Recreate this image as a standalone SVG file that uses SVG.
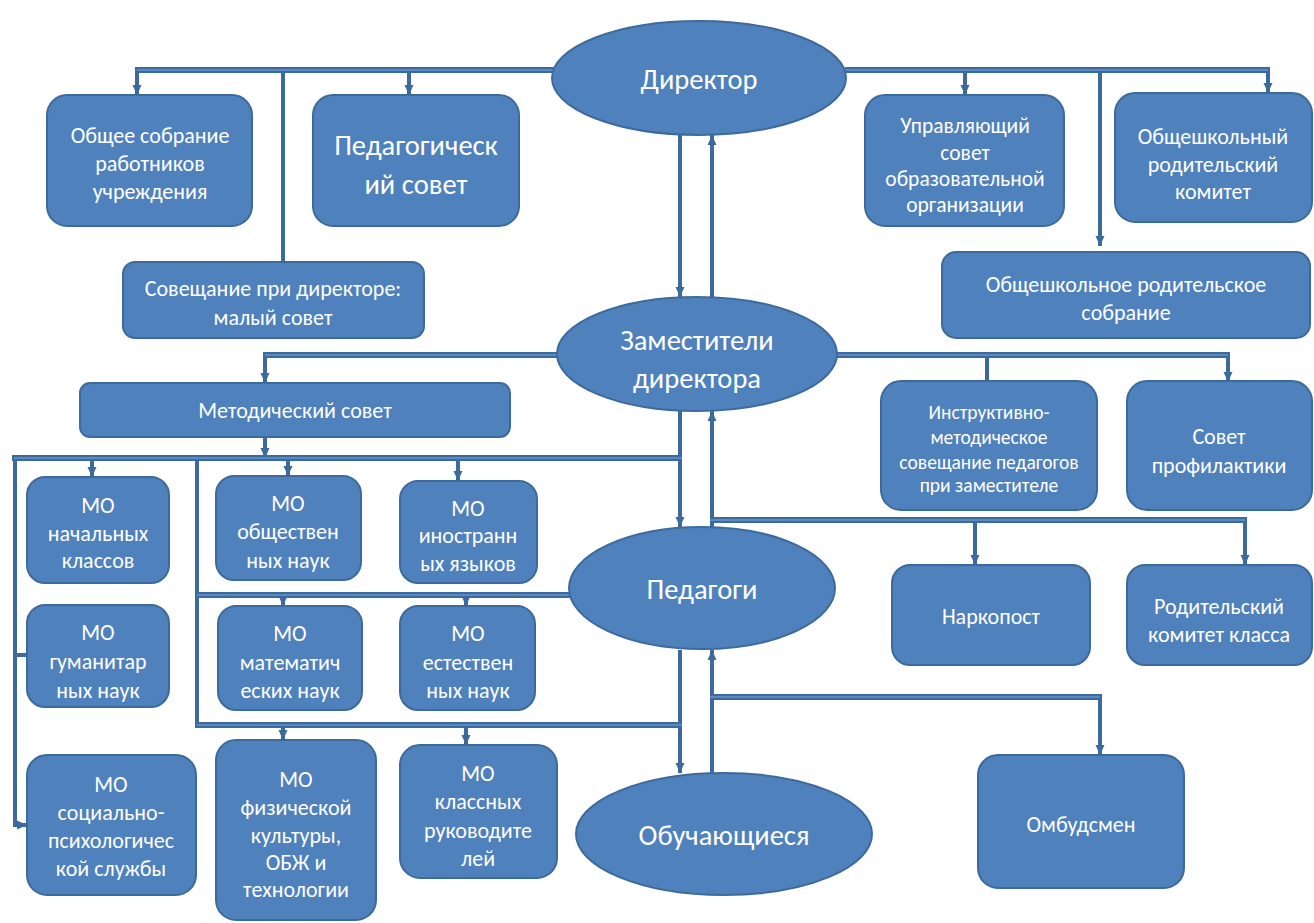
<svg xmlns="http://www.w3.org/2000/svg" width="1314" height="923" viewBox="0 0 1314 923">
<style>
.n{fill:#4f81bd;stroke:#3d6a9c;stroke-width:2}
.t{fill:#fff;font-family:Carlito,Lato,"Liberation Sans",sans-serif;text-anchor:middle}
.s{font-size:22px}
.m{font-size:21.5px}
.i{font-size:19.5px}
.b{font-size:28.5px}
.h{fill:none;stroke:#3d6a9c;stroke-width:6}
.hi{fill:none;stroke:#5a8ac5;stroke-width:2}
.v{fill:none;stroke:#3d6a9c;stroke-width:4}
</style>
<defs>
<marker id="a" viewBox="0 0 10 10" refX="10" refY="5" markerWidth="10" markerHeight="10" markerUnits="userSpaceOnUse" orient="auto"><path d="M0,0.5 L10,5 L0,9.5z" fill="#3d6a9c"/></marker>
</defs>
<rect width="1314" height="923" fill="#fff"/>
<g id="connectors">
<path class="v" d="M137,70V95" marker-end="url(#a)"/>
<path class="v" d="M283,70V262"/>
<path class="v" d="M409,70V95" marker-end="url(#a)"/>
<path class="v" d="M965,70V95" marker-end="url(#a)"/>
<path class="v" d="M1100,70V246" marker-end="url(#a)"/>
<path class="v" d="M1268,70V93" marker-end="url(#a)"/>
<path class="v" d="M680,135V297" marker-end="url(#a)"/>
<path class="v" d="M712,297V135" marker-end="url(#a)"/>
<path class="v" d="M265,355V383" marker-end="url(#a)"/>
<path class="v" d="M987,355V382"/>
<path class="v" d="M1228,355V382" marker-end="url(#a)"/>
<path class="v" d="M265,437V458" marker-end="url(#a)"/>
<path class="v" d="M680,411V527" marker-end="url(#a)"/>
<path class="v" d="M712,527V411" marker-end="url(#a)"/>
<path class="v" d="M15,458V825H27" marker-end="url(#a)"/>
<path class="v" d="M15,655H27"/>
<path class="v" d="M197,458V725"/>
<path class="v" d="M92,458V477" marker-end="url(#a)"/>
<path class="v" d="M288,458V476" marker-end="url(#a)"/>
<path class="v" d="M458,458V481" marker-end="url(#a)"/>
<path class="v" d="M283,595V606" marker-end="url(#a)"/>
<path class="v" d="M466,595V606" marker-end="url(#a)"/>
<path class="v" d="M680,650V773" marker-end="url(#a)"/>
<path class="v" d="M712,773V650" marker-end="url(#a)"/>
<path class="v" d="M283,725V740" marker-end="url(#a)"/>
<path class="v" d="M466,725V745" marker-end="url(#a)"/>
<path class="v" d="M975,520V565" marker-end="url(#a)"/>
<path class="v" d="M1245,520V565" marker-end="url(#a)"/>
<path class="v" d="M1100,697V755" marker-end="url(#a)"/>
<path class="h" d="M555,70H135M845,70H1270M560,355H263M836,355H1230M682,458H12M572,595H195M682,725H195M710,520H1247M710,697H1102"/>
<path class="hi" d="M555,70H137M845,70H1268M560,355H265M836,355H1228M682,458H14M572,595H197M682,725H197M710,520H1245M710,697H1100"/>
</g>
<g id="director"><ellipse class="n" cx="699" cy="78" rx="147" ry="57"/><text class="t b" x="699" y="89">Директор</text></g>
<g id="obshchee"><rect class="n" x="47" y="95" width="205" height="131" rx="20"/><text class="t s" x="150" y="143">Общее собрание</text><text class="t s" x="150" y="171">работников</text><text class="t s" x="150" y="199">учреждения</text></g>
<g id="pedsovet"><rect class="n" x="313" y="95" width="206" height="131" rx="20"/><text class="t b" x="416" y="155">Педагогическ</text><text class="t b" x="416" y="194">ий совет</text></g>
<g id="soveshchanie"><rect class="n" x="123" y="262" width="301" height="76" rx="12"/><text class="t s" x="273" y="296">Совещание при директоре:</text><text class="t s" x="273" y="325">малый совет</text></g>
<g id="upravl"><rect class="n" x="865" y="95" width="199" height="131" rx="20"/><text class="t m" x="965" y="133">Управляющий</text><text class="t m" x="965" y="160">совет</text><text class="t m" x="965" y="186">образовательной</text><text class="t m" x="965" y="212">организации</text></g>
<g id="komitet"><rect class="n" x="1115" y="93" width="197" height="129" rx="20"/><text class="t s" x="1213" y="144">Общешкольный</text><text class="t s" x="1213" y="172">родительский</text><text class="t s" x="1213" y="199">комитет</text></g>
<g id="sobranie"><rect class="n" x="942" y="252" width="368" height="86" rx="14"/><text class="t s" x="1126" y="292">Общешкольное родительское</text><text class="t s" x="1126" y="320">собрание</text></g>
<g id="zamestiteli"><ellipse class="n" cx="697" cy="354" rx="140" ry="57"/><text class="t b" x="697" y="350">Заместители</text><text class="t b" x="697" y="388">директора</text></g>
<g id="metodsovet"><rect class="n" x="80" y="383" width="430" height="54" rx="10"/><text class="t s" x="295" y="418">Методический совет</text></g>
<g id="instrukt"><rect class="n" x="881" y="381" width="216" height="129" rx="20"/><text class="t i" x="989" y="419">Инструктивно-</text><text class="t i" x="989" y="444">методическое</text><text class="t i" x="989" y="469">совещание педагогов</text><text class="t i" x="989" y="492">при заместителе</text></g>
<g id="profil"><rect class="n" x="1127" y="381" width="185" height="129" rx="20"/><text class="t s" x="1219" y="444">Совет</text><text class="t s" x="1219" y="473">профилактики</text></g>
<g id="mo-nach"><rect class="n" x="27" y="477" width="142" height="106" rx="18"/><text class="t s" x="98" y="513">МО</text><text class="t s" x="98" y="541">начальных</text><text class="t s" x="98" y="568">классов</text></g>
<g id="mo-obsh"><rect class="n" x="216" y="476" width="145" height="104" rx="18"/><text class="t s" x="288" y="511">МО</text><text class="t s" x="288" y="539">обществен</text><text class="t s" x="288" y="568">ных наук</text></g>
<g id="mo-inostr"><rect class="n" x="400" y="481" width="137" height="102" rx="18"/><text class="t s" x="468" y="516">МО</text><text class="t s" x="468" y="543">иностранн</text><text class="t s" x="468" y="571">ых языков</text></g>
<g id="pedagogi"><ellipse class="n" cx="702" cy="588" rx="133" ry="61"/><text class="t b" x="702" y="599">Педагоги</text></g>
<g id="narkopost"><rect class="n" x="892" y="565" width="198" height="100" rx="18"/><text class="t s" x="991" y="624">Наркопост</text></g>
<g id="rodkom"><rect class="n" x="1127" y="565" width="185" height="100" rx="18"/><text class="t s" x="1219" y="614">Родительский</text><text class="t s" x="1219" y="642">комитет класса</text></g>
<g id="mo-gum"><rect class="n" x="27" y="605" width="142" height="102" rx="18"/><text class="t s" x="98" y="640">МО</text><text class="t s" x="98" y="669">гуманитар</text><text class="t s" x="98" y="698">ных наук</text></g>
<g id="mo-mat"><rect class="n" x="218" y="606" width="144" height="104" rx="18"/><text class="t s" x="290" y="641">МО</text><text class="t s" x="290" y="670">математич</text><text class="t s" x="290" y="698">еских наук</text></g>
<g id="mo-est"><rect class="n" x="400" y="606" width="135" height="104" rx="18"/><text class="t s" x="468" y="641">МО</text><text class="t s" x="468" y="670">естествен</text><text class="t s" x="468" y="698">ных наук</text></g>
<g id="ombudsmen"><rect class="n" x="978" y="755" width="206" height="133" rx="20"/><text class="t s" x="1081" y="832">Омбудсмен</text></g>
<g id="obuchayushchiesya"><ellipse class="n" cx="724" cy="834" rx="148" ry="61"/><text class="t b" x="724" y="845">Обучающиеся</text></g>
<g id="mo-soc"><rect class="n" x="27" y="755" width="169" height="140" rx="20"/><text class="t s" x="111" y="792">МО</text><text class="t s" x="111" y="820">социально-</text><text class="t s" x="111" y="848">психологичес</text><text class="t s" x="111" y="876">кой службы</text></g>
<g id="mo-fiz"><rect class="n" x="216" y="740" width="160" height="180" rx="20"/><text class="t s" x="296" y="787">МО</text><text class="t s" x="296" y="815">физической</text><text class="t s" x="296" y="843">культуры,</text><text class="t s" x="296" y="870">ОБЖ и</text><text class="t s" x="296" y="897">технологии</text></g>
<g id="mo-klass"><rect class="n" x="400" y="745" width="157" height="133" rx="20"/><text class="t s" x="478" y="781">МО</text><text class="t s" x="478" y="809">классных</text><text class="t s" x="478" y="838">руководите</text><text class="t s" x="478" y="866">лей</text></g>
</svg>
